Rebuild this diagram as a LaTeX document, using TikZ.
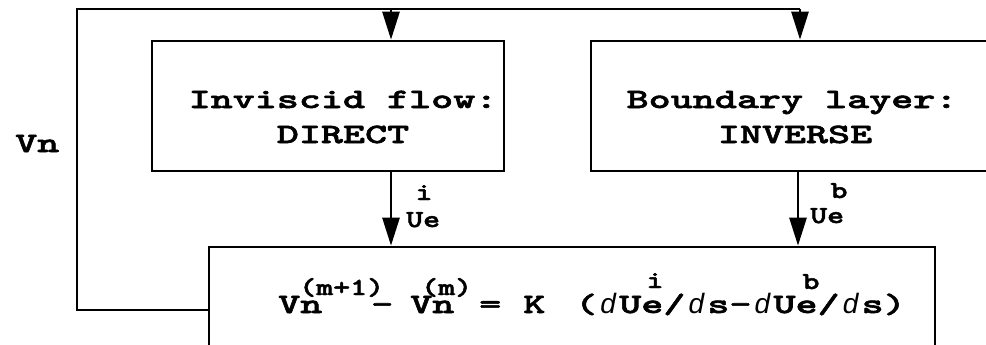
\documentclass[tikz,border=0pt]{standalone}
\usepackage{fontspec}
\usetikzlibrary{arrows.meta}
% wide bold typewriter faces for the labels
\newfontfamily\bigmono{lmmonolt10-bold.otf}[FakeStretch=1.5,FakeBold=2]
\newfontfamily\smallmono{lmmonolt10-bold.otf}[FakeStretch=1.32,FakeBold=2]
\newfontfamily\dfamily{Liberation Sans}
% italic d set in one typewriter cell
\newcommand{\dd}{\makebox[22pt][c]{\dfamily\itshape d}}
\begin{document}
\begin{tikzpicture}[x=1pt,y=-1pt,
  box/.style={draw,line width=2.6pt,inner sep=0pt},
  link/.style={line width=2.6pt},
  arr/.style={line width=2.6pt,-{Triangle[length=28pt,width=17pt]}},
  big/.style={font=\bigmono\fontsize{28}{34}\selectfont,inner sep=0pt},
  small/.style={font=\smallmono\fontsize{24.5}{28}\selectfont,inner sep=0pt}]
\useasboundingbox (0,0) rectangle (986,345);

% the three blocks
\node[box,minimum width=352pt,minimum height=130pt] (inv) at (328,106) {};
\node[box,minimum width=409pt,minimum height=130pt] (bl) at (795.5,106) {};
\node[box,minimum width=726pt,minimum height=110pt] (eq) at (572,302) {};

% block captions
\node[big,anchor=base] (invA) at (343,108) {Inviscid flow:};
\node[big,anchor=base] (invB) at (343,143) {DIRECT};
\node[big,anchor=base] (blA) at (792,108) {Boundary layer:};
\node[big,anchor=base] (blB) at (795,143) {INVERSE};

% feedback loop
\coordinate (lt) at (77,9);
\coordinate (lb) at (77,310);
\coordinate (rt) at (800,9);
\coordinate (ja) at (391,9);
\coordinate (jb) at (798,9);
\draw[link] (eq.west |- lb) -- (lb) -- (lt) -- (rt);
\draw[arr] (ja) -- (ja |- inv.north);
\draw[arr] (rt) -- (rt |- bl.north);
\draw[arr] (inv.south -| ja) -- (ja |- eq.north);
\draw[arr] (bl.south -| jb) -- (jb |- eq.north);

\node[big,anchor=base west] (vn) at (15,152) {Vn};

% edge-velocity labels
\node[small,anchor=base] (ui) at (424,200) {i};
\node[small,anchor=base west] (ueA) at (406,227) {Ue};
\node[small,anchor=base] (ub) at (839,198) {b};
\node[small,anchor=base west] (ueB) at (810,223) {Ue};

% update formula
\node[big,anchor=base west] (e1) at (278,313) {Vn};
\node[small,anchor=base west] (e2) at (299,295) {(m+1)};
\node[big,anchor=base west] (e3) at (371,313) {-};
\node[big,anchor=base west] (e4) at (410,313) {Vn};
\node[small,anchor=base west] (e5) at (421,295) {(m)};
\node[big,anchor=base west] (e6) at (479,313) {= K};
\node[big,anchor=base west] (e7) at (575,313) {(\dd Ue/\dd s-\dd Ue/\dd s)};
\node[small,anchor=base] (e8) at (655,288) {i};
\node[small,anchor=base] (e9) at (811,289) {b};
\end{tikzpicture}
\end{document}
